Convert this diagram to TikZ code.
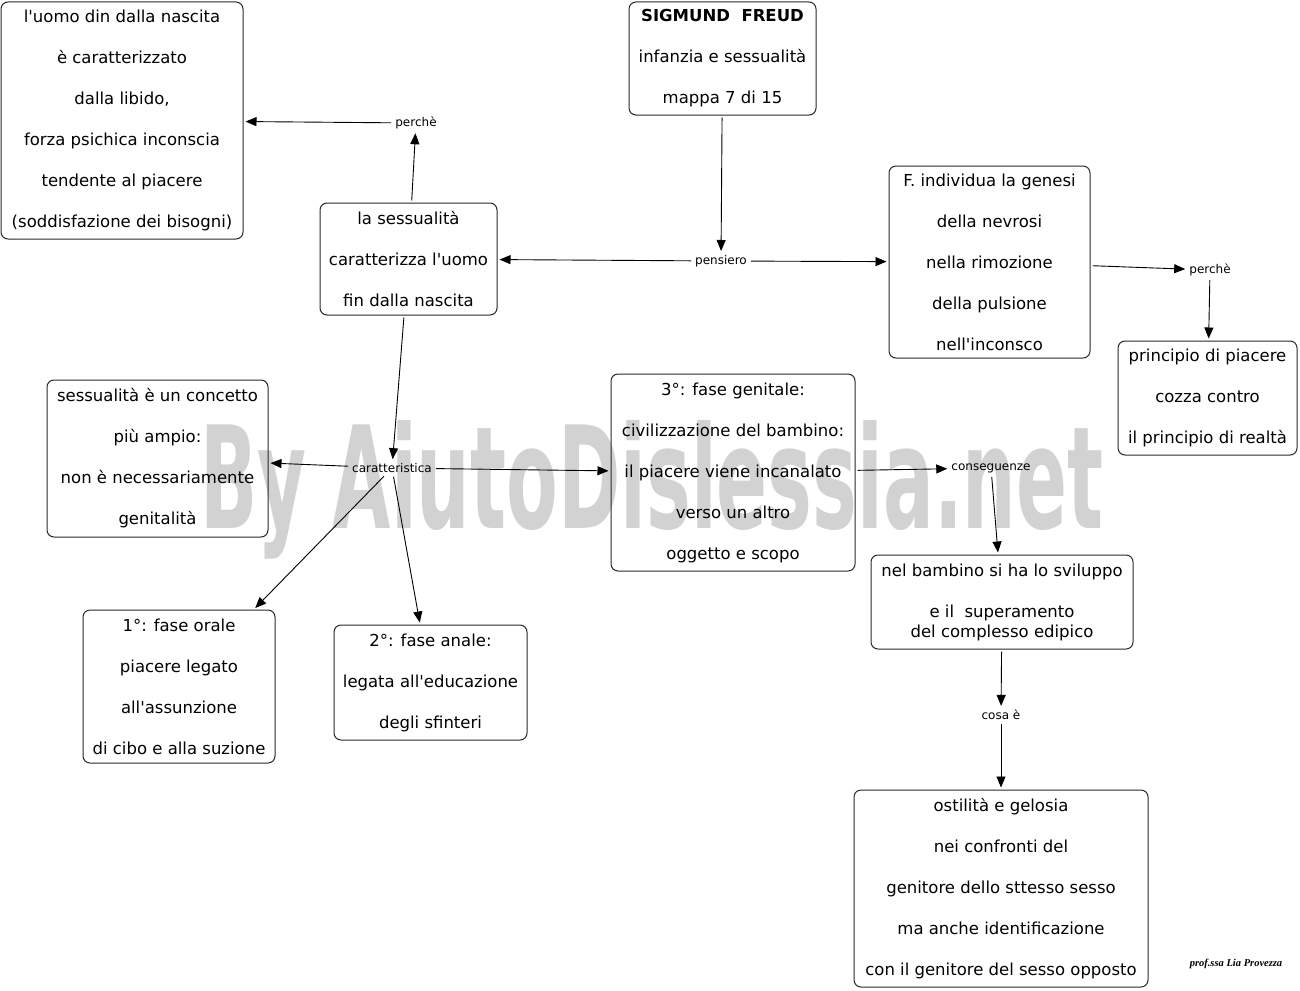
\documentclass[tikz,border=0pt]{standalone}
\usepackage{fontspec}
\setmainfont{DejaVu Sans}
\newfontfamily\dv{DejaVu Sans}
\newfontfamily\sigfont{Liberation Serif}
\usetikzlibrary{arrows.meta}
\definecolor{wmgray}{RGB}{210,210,210}
\definecolor{boxline}{RGB}{40,40,40}
\begin{document}
\begin{tikzpicture}[x=1pt,y=-1pt,
  box/.style={draw=boxline, line width=1pt, rounded corners=7pt, align=center, inner sep=0pt, font=\dv\fontsize{16.5}{41}\selectfont},
  lab/.style={inner sep=2pt, font=\dv\fontsize{12}{14}\selectfont},
  conn/.style={line width=0.9pt, -{Triangle[length=11pt,width=9pt]}, shorten >=2pt, shorten <=2pt}
]
\useasboundingbox (0,0) rectangle (1300,990);
\fill[white] (0,0) rectangle (1300,990);
% watermark
\node[anchor=base west, inner sep=0pt, text=wmgray] (wm) at (200,528) {\resizebox{903pt}{108pt}{\dv\bfseries By AiutoDislessia.net}};

% boxes
\node[box, minimum width=242pt, minimum height=237pt] (A) at (122,120.5)
 {l'uomo din dalla nascita\\è caratterizzato\\dalla libido,\\forza psichica inconscia\\tendente al piacere\\(soddisfazione dei bisogni)};
\node[box, minimum width=187pt, minimum height=113pt] (freud) at (722.5,58.5)
 {\textbf{SIGMUND\ \ FREUD}\\infanzia e sessualità\\mappa 7 di 15};
\node[box, minimum width=177pt, minimum height=112pt] (sess) at (408.5,259)
 {la sessualità\\caratterizza l'uomo\\fin dalla nascita};
\node[box, minimum width=201pt, minimum height=192pt] (F) at (989.5,262)
 {F. individua la genesi\\della nevrosi\\nella rimozione\\della pulsione\\nell'inconsco};
\node[box, minimum width=179pt, minimum height=114pt] (princ) at (1207.5,398)
 {principio di piacere\\cozza contro\\il principio di realtà};
\node[box, minimum width=221pt, minimum height=157pt] (conc) at (157.5,458.5)
 {sessualità è un concetto\\più ampio:\\non è necessariamente\\genitalità};
\node[box, minimum width=244pt, minimum height=197pt] (gen) at (733,472.5)
 {3°: fase genitale:\\civilizzazione del bambino:\\il piacere viene incanalato\\verso un altro\\oggetto e scopo};
\node[box, minimum width=262pt, minimum height=94pt, font=\dv\fontsize{16.5}{20}\selectfont] (bamb) at (1002,602)
 {nel bambino si ha lo sviluppo\\[21pt]e il\ \ superamento\\del complesso edipico};
\node[box, minimum width=192pt, minimum height=153pt] (orale) at (179,686.5)
 {1°: fase orale\\piacere legato\\all'assunzione\\di cibo e alla suzione};
\node[box, minimum width=193pt, minimum height=115pt] (anale) at (430.5,682.5)
 {2°: fase anale:\\legata all'educazione\\degli sfinteri};
\node[box, minimum width=294pt, minimum height=197pt] (ost) at (1001,888.5)
 {ostilità e gelosia\\nei confronti del\\genitore dello sttesso sesso\\ma anche identificazione\\con il genitore del sesso opposto};

% labels
\node[lab] (perche1) at (416,123) {perchè};
\node[lab] (pens) at (721,261) {pensiero};
\node[lab] (perche2) at (1210,270) {perchè};
\node[lab] (car) at (392,468) {caratteristica};
\node[lab] (cons) at (991,468) {conseguenze};
\node[lab] (cosa) at (1001,715) {cosa è};

% signature
\node[font=\sigfont\bfseries\itshape\fontsize{10.5}{13}\selectfont] (sig) at (1236,964) {prof.ssa Lia Provezza};

% connectors
\draw[conn] (freud) -- (pens);
\draw[conn] (pens) -- (sess);
\draw[conn] (pens) -- (F);
\draw[conn] (sess) -- (perche1);
\draw[conn] (perche1) -- (A);
\draw[conn] (F) -- (perche2);
\draw[conn] (perche2) -- (princ);
\draw[conn] (sess) -- (car);
\draw[conn] (car) -- (conc);
\draw[conn] (car) -- (gen);
\draw[conn] (car) -- (orale);
\draw[conn] (car) -- (anale);
\draw[conn] (gen) -- (cons);
\draw[conn] (cons) -- (bamb);
\draw[conn] (bamb) -- (cosa);
\draw[conn] (cosa) -- (ost);
\end{tikzpicture}
\end{document}
